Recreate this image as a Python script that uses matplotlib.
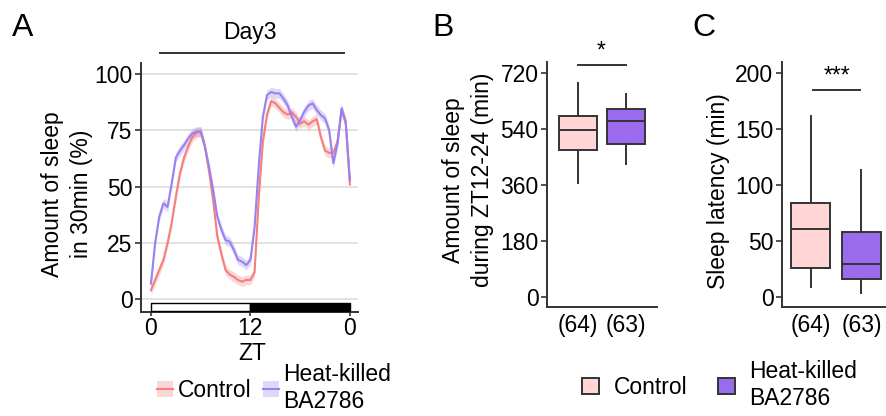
import matplotlib.pyplot as plt
from matplotlib.patches import Patch
from matplotlib.lines import Line2D

plt.rcParams['font.family'] = ['Liberation Sans', 'DejaVu Sans']
fs = 16.5
plt.rcParams['font.size'] = fs

# panel A: sleep amount per 30 min bin, day 3
zt = [i * 0.5 for i in range(49)]
control_sleep = [4, 8.6, 13, 17.5, 25, 34, 45.5, 56, 63, 68, 72, 74, 74.5, 68, 57, 44,
                 28, 20, 13, 11, 10, 8.6, 7.8, 8.6, 8.6, 12, 45, 70, 82, 88, 87, 85,
                 83, 82, 83, 81, 78, 79, 77.5, 79, 80, 72, 66, 65, 65, 70, 84, 79, 51]
hk_sleep = [7, 25, 36.7, 42.6, 41, 51.5, 63, 66, 68.5, 71.4, 73.7, 74.4, 74.4, 67.8, 58.9, 48.5,
            36.7, 30.8, 26.3, 25.6, 21.9, 17.5, 16.7, 15.2, 17.5, 32, 59, 81, 90.7, 92, 91.4, 91.4,
            89, 86, 81, 76.6, 79.6, 83.3, 86, 87, 84, 81.8, 80.3, 75, 60.4, 69, 84.8, 78, 53]
control_sem = 2.2
hk_sem = 2.2

# panel B / C box stats: (low whisker, q1, median, q3, high whisker)
groups = ['(64)', '(63)']
night_sleep = [(365, 472, 536, 581, 686), (426, 493, 565, 604, 651)]
latency = [(8.4, 25.7, 60.3, 83.6, 161.8), (3, 15.5, 29, 58.2, 113.4)]

red = '#F47F7F'
purple = '#9A80F0'
pink_fill = '#FFD5D5'
purple_fill = '#9B6BEE'
dark = '#333333'

fig = plt.figure(figsize=(8.87, 4.16), dpi=100)


def style(ax):
    for s in ['top', 'right']:
        ax.spines[s].set_visible(False)
    for s in ['left', 'bottom']:
        ax.spines[s].set_color(dark)
        ax.spines[s].set_linewidth(1.4)
    ax.tick_params(colors=dark, labelcolor='black', width=1.2, length=4, labelsize=fs, pad=2)


# ---- A ----
axA = fig.add_axes([0.159, 0.2507, 0.2448, 0.5979])
style(axA)
axA.set_xlim(-1.2, 25)
axA.set_ylim(-5.5, 104.9)
axA.set_yticks([0, 25, 50, 75, 100])
axA.set_xticks([0, 12, 24])
axA.set_xticklabels(['0', '12', '0'])
axA.tick_params(axis='x', length=3, pad=1)
axA.grid(axis='y', color='#DDDDDD', linewidth=1.2, zorder=0)
axA.set_axisbelow(True)
axA.fill_between(zt, [v - control_sem for v in control_sleep], [v + control_sem for v in control_sleep],
                 color=red, alpha=0.3, linewidth=0, zorder=2)
axA.fill_between(zt, [v - hk_sem for v in hk_sleep], [v + hk_sem for v in hk_sleep],
                 color=purple, alpha=0.3, linewidth=0, zorder=2)
axA.plot(zt, control_sleep, color=red, lw=1.5, zorder=3)
axA.plot(zt, hk_sleep, color=purple, lw=1.5, zorder=3)
axA.broken_barh([(0, 12)], (-5.3, 3.8), facecolor='white', edgecolor='black', linewidth=1, zorder=4)
axA.broken_barh([(12, 12)], (-5.3, 3.8), facecolor='black', edgecolor='black', linewidth=1, zorder=4)
axA.plot([1.1, 23.3], [109.3, 109.3], color=dark, lw=1.4, clip_on=False)
fig.text(250 / 887, 1 - 33 / 416, 'Day3', ha='center', va='center', fontsize=fs)
fig.text(252 / 887, 1 - 353 / 416, 'ZT', ha='center', va='center', fontsize=fs)
fig.text(67 / 887, 1 - 194 / 416, 'Amount of sleep\nin 30min (%)', rotation=90,
         ha='center', va='center', multialignment='center', fontsize=fs, linespacing=1.35)

hA = [(Patch(facecolor=red, alpha=0.3, edgecolor='none'), Line2D([], [], color=red, lw=1.5)),
      (Patch(facecolor=purple, alpha=0.3, edgecolor='none'), Line2D([], [], color=purple, lw=1.5))]
fig.legend(hA, ['Control', 'Heat-killed\nBA2786'], loc='center', bbox_to_anchor=(274 / 887, 1 - 388 / 416),
           ncol=2, frameon=False, handlelength=0.72, handleheight=0.72, handletextpad=0.18,
           columnspacing=0.5, fontsize=fs, borderpad=0, labelspacing=0.1)


def boxes(ax, stats):
    data = []
    for g, s in zip(groups, stats):
        data.append({'whislo': s[0], 'q1': s[1], 'med': s[2], 'q3': s[3], 'whishi': s[4],
                     'label': g, 'fliers': []})
    b = ax.bxp(data, positions=[1, 2], widths=0.78, patch_artist=True, showcaps=False,
               showfliers=False,
               boxprops=dict(edgecolor=dark, linewidth=1.4),
               whiskerprops=dict(color=dark, linewidth=1.4),
               medianprops=dict(color=dark, linewidth=1.4))
    for patch, c in zip(b['boxes'], [pink_fill, purple_fill]):
        patch.set_facecolor(c)
    ax.tick_params(axis='x', length=0, pad=5)


# ---- B ----
axB = fig.add_axes([0.6167, 0.262, 0.124, 0.5897])
style(axB)
boxes(axB, night_sleep)
axB.set_xlim(0.354, 2.646)
axB.set_ylim(-31.1, 755.6)
axB.set_yticks([0, 180, 360, 540, 720])
axB.plot([1, 2], [745, 745], color=dark, lw=1.4, clip_on=False)
fig.text(601 / 887, 1 - 51 / 416, '*', ha='center', va='center', fontsize=fs)
fig.text(468 / 887, 1 - 180 / 416, 'Amount of sleep\nduring ZT12-24 (min)', rotation=90,
         ha='center', va='center', multialignment='center', fontsize=fs, linespacing=1.35)

# ---- C ----
axC = fig.add_axes([0.8813, 0.2627, 0.1185, 0.589])
style(axC)
boxes(axC, latency)
axC.set_xlim(0.43, 2.5)
axC.set_ylim(-8.95, 210.4)
axC.set_yticks([0, 50, 100, 150, 200])
axC.plot([1.05, 1.98], [185, 185], color=dark, lw=1.4, clip_on=False)
fig.text(837 / 887, 1 - 76 / 416, '***', ha='center', va='center', fontsize=fs)
fig.text(718 / 887, 1 - 191 / 416, 'Sleep latency (min)', rotation=90,
         ha='center', va='center', fontsize=fs)

hB = [Patch(facecolor=pink_fill, edgecolor=dark, linewidth=1.4),
      Patch(facecolor=purple_fill, edgecolor=dark, linewidth=1.4)]
fig.legend(hB, ['Control', 'Heat-killed\nBA2786'], loc='center', bbox_to_anchor=(720 / 887, 1 - 385 / 416),
           ncol=2, frameon=False, handlelength=0.74, handleheight=0.74, handletextpad=0.65,
           columnspacing=1.3, fontsize=fs, borderpad=0)

for lab, x in [('A', 12), ('B', 432), ('C', 692)]:
    fig.text(x / 887, 1 - 28 / 416, lab, fontsize=23, ha='left', va='center')

fig.savefig('out.png', dpi=100)
